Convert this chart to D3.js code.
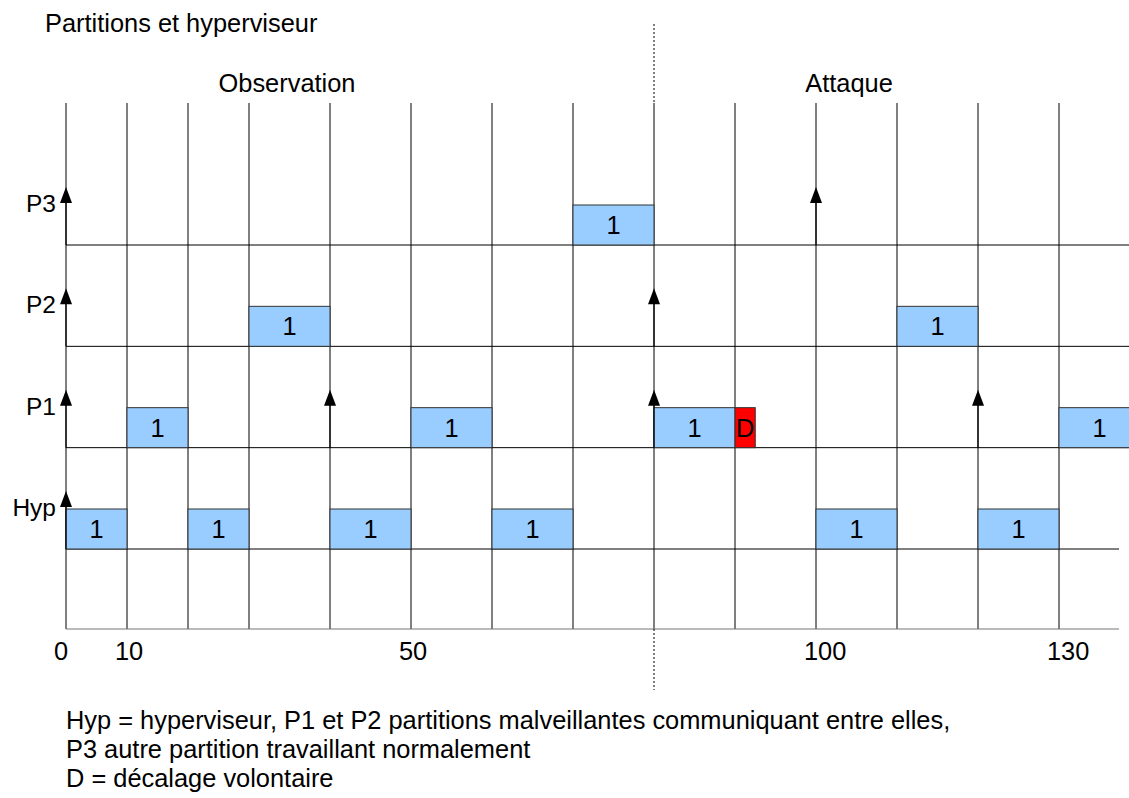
<!DOCTYPE html>
<html>
<head>
<meta charset="utf-8">
<script src="https://cdn.jsdelivr.net/npm/d3@7/dist/d3.min.js"></script>
<style>
  html, body { margin: 0; padding: 0; background: #fff; }
  svg { display: block; }
  text { font-family: "Liberation Sans", Arial, sans-serif; fill: #000; }
</style>
</head>
<body>
<svg id="chart" width="1129" height="798"></svg>
<script>
// ---- data ----
const rows = ["P3", "P2", "P1", "Hyp"];
const gridTimes = [0, 10, 20, 30, 40, 50, 60, 70, 80, 90, 100, 110, 120, 130];
const tickLabels = [0, 10, 50, 100, 130];
const slotLength = 10;
const hypStarts = [0, 20, 40, 60, 100, 120];
const p1Starts = [10, 50, 80, 130];
const p2Starts = [30, 110];
const p3Starts = [70];
const slotLabel = "1";
const shiftSlot = { row: "P1", start: 90, end: 92.5, label: "D" };
const hypArrows = [0];
const p1Arrows = [0, 40, 80, 120];
const p2Arrows = [0, 80];
const p3Arrows = [0, 100];
const phaseBoundary = 80;
const title = "Partitions et hyperviseur";
const phases = ["Observation", "Attaque"];
const notes = [
  "Hyp = hyperviseur, P1 et P2 partitions malveillantes communiquant entre elles,",
  "P3 autre partition travaillant normalement",
  "D = décalage volontaire"
];

// ---- layout ----
const svg = d3.select("#chart");
const FS = 25.4;
const x = d3.scaleLinear().domain([0, 30, 130]).range([66, 249, 1059]);
const y = d3.scalePoint().domain(rows).range([245, 549]);
const gridTop = 103, axisY = 629, boxH = 40;

const slots = [];
[["Hyp", hypStarts], ["P1", p1Starts], ["P2", p2Starts], ["P3", p3Starts]].forEach(([r, arr]) =>
  arr.forEach(s => slots.push({ row: r, start: s, end: s + slotLength, label: slotLabel, fill: "#99ccff" })));
slots.push({ ...shiftSlot, fill: "#ff0000" });

const arrows = [];
[["Hyp", hypArrows], ["P1", p1Arrows], ["P2", p2Arrows], ["P3", p3Arrows]].forEach(([r, arr]) =>
  arr.forEach(t => arrows.push({ row: r, t })));

// title & phases
svg.append("text").attr("x", 45).attr("y", 31.5).attr("font-size", FS).text(title);
svg.append("text").attr("x", 287).attr("y", 92).attr("text-anchor", "middle").attr("font-size", FS).text(phases[0]);
svg.append("text").attr("x", 849).attr("y", 92).attr("text-anchor", "middle").attr("font-size", FS).text(phases[1]);

// vertical grid lines
svg.append("g").selectAll("line").data(gridTimes).join("line")
  .attr("x1", d => x(d)).attr("x2", d => x(d))
  .attr("y1", gridTop).attr("y2", axisY)
  .attr("stroke", "#000").attr("stroke-width", 1);

// row baselines
svg.append("g").selectAll("line").data(rows).join("line")
  .attr("x1", x(0)).attr("x2", d => d === "Hyp" ? 1119 : 1129)
  .attr("y1", d => y(d)).attr("y2", d => y(d))
  .attr("stroke", "#000").attr("stroke-width", 1);

// axis line
svg.append("line").attr("x1", x(0)).attr("x2", 1119)
  .attr("y1", axisY).attr("y2", axisY).attr("stroke", "#777").attr("stroke-width", 1.2);

// tick labels
svg.append("g").selectAll("text").data(tickLabels).join("text")
  .attr("x", d => x(d) - 12).attr("y", 660)
  .attr("font-size", FS).text(d => d);

// phase boundary dotted line
[[24, gridTop], [axisY, 690]].forEach(([a, b]) =>
  svg.append("line").attr("x1", x(phaseBoundary)).attr("x2", x(phaseBoundary))
    .attr("y1", a).attr("y2", b).attr("stroke", "#000").attr("stroke-width", 1)
    .attr("stroke-dasharray", "2,2"));

// row labels
svg.append("g").selectAll("text").data(rows).join("text")
  .attr("x", 56).attr("y", d => y(d) - 33).attr("text-anchor", "end")
  .attr("font-size", 24.5).text(d => d);

// slots
const g = svg.append("g").selectAll("g").data(slots).join("g");
g.append("rect")
  .attr("x", d => x(d.start)).attr("y", d => y(d.row) - boxH)
  .attr("width", d => x(d.end) - x(d.start)).attr("height", boxH)
  .attr("fill", d => d.fill).attr("stroke", "#333").attr("stroke-width", 1);
g.append("text")
  .attr("x", d => (x(d.start) + x(d.end)) / 2).attr("y", d => y(d.row) - 11)
  .attr("text-anchor", "middle").attr("font-size", FS).text(d => d.label);

// arrows
const ag = svg.append("g").selectAll("g").data(arrows).join("g");
ag.append("line")
  .attr("x1", d => x(d.t)).attr("x2", d => x(d.t))
  .attr("y1", d => y(d.row)).attr("y2", d => y(d.row) - 50)
  .attr("stroke", "#000").attr("stroke-width", 1.2);
ag.append("path")
  .attr("d", d => {
    const cx = x(d.t), tip = y(d.row) - 58;
    return `M${cx},${tip} L${cx - 6},${tip + 16} L${cx + 6},${tip + 16} Z`;
  })
  .attr("fill", "#000");

// notes
svg.append("g").selectAll("text").data(notes).join("text")
  .attr("x", 66).attr("y", (d, i) => 729 + i * 29)
  .attr("font-size", FS).text(d => d);
</script>
</body>
</html>
